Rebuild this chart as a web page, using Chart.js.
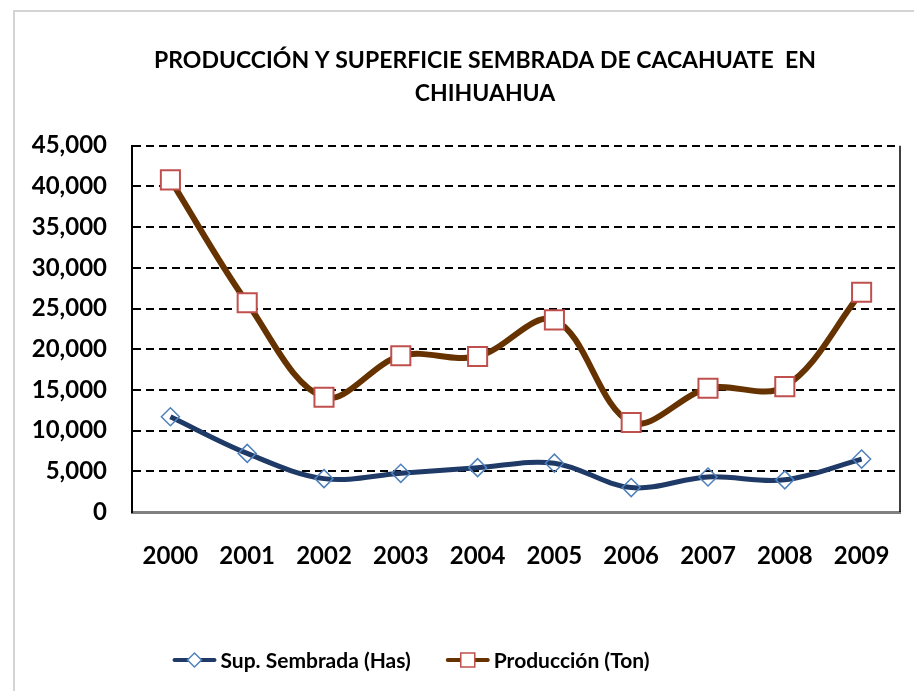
<!DOCTYPE html>
<html>
<head>
<meta charset="utf-8">
<script src="https://cdn.jsdelivr.net/npm/chart.js@4.4.1/dist/chart.umd.min.js"></script>
<style>
  html, body { margin: 0; padding: 0; background: #fff; overflow: hidden; }
  #frame {
    position: absolute; left: 13px; top: 10px;
    width: 960px; height: 700px;
    border: 2px solid #d4d4d4;
  }
</style>
</head>
<body>
<div id="frame"><canvas id="lineChart"></canvas></div>
<script>
const years = ['2000', '2001', '2002', '2003', '2004', '2005', '2006', '2007', '2008', '2009'];
const supSembrada = [11700, 7200, 4100, 4750, 5450, 6000, 3000, 4300, 3950, 6500];
const produccion = [40800, 25700, 14100, 19200, 19100, 23600, 11000, 15200, 15400, 27000];
const yTickLabels = ['0', '5,000', '10,000', '15,000', '20,000', '25,000', '30,000', '35,000', '40,000', '45,000'];
const titleLines = ['PRODUCCIÓN Y SUPERFICIE SEMBRADA DE CACAHUATE  EN', 'CHIHUAHUA'];

const FONT = 'Lato';

// let the y labels spill into the left padding (title stays centred like Excel)
const widenYLabels = {
    id: 'widenYLabels',
    afterLayout(chart) {
        chart.scales.y.left = 0;
    }
};

// right edge of the plot area (Excel draws a frame there)
const plotFrame = {
    id: 'plotFrame',
    beforeDatasetsDraw(chart) {
        const {ctx, chartArea} = chart;
        ctx.save();
        ctx.strokeStyle = '#000';
        ctx.lineWidth = 1.5;
        ctx.beginPath();
        ctx.moveTo(chartArea.right, chartArea.top);
        ctx.lineTo(chartArea.right, chartArea.bottom);
        ctx.stroke();
        ctx.restore();
    }
};

// legend drawn like Excel: line sample with the marker in the middle
const excelLegend = {
    id: 'excelLegend',
    afterDraw(chart) {
        const ctx = chart.ctx;
        const y = 648, centerX = 396;
        const sampleW = 44, textGap = 4, itemGap = 35;
        ctx.save();
        ctx.font = 'bold 21px ' + FONT;
        ctx.textBaseline = 'middle';
        const items = chart.data.datasets.map(ds => ({
            ds: ds,
            w: sampleW + textGap + ctx.measureText(ds.label).width
        }));
        const total = items.reduce((a, it) => a + it.w, 0) + itemGap * (items.length - 1);
        let x = centerX - total / 2;
        items.forEach(it => {
            const ds = it.ds;
            ctx.strokeStyle = ds.borderColor;
            ctx.lineWidth = 4;
            ctx.lineCap = 'round';
            ctx.beginPath();
            ctx.moveTo(x + 2, y);
            ctx.lineTo(x + sampleW - 2, y);
            ctx.stroke();
            const mx = x + sampleW / 2;
            ctx.lineCap = 'butt';
            ctx.fillStyle = '#fff';
            ctx.strokeStyle = ds.pointBorderColor;
            ctx.lineWidth = 1.5;
            ctx.beginPath();
            if (ds.pointStyle === 'rectRot') {
                const r = 7;
                ctx.moveTo(mx - r, y);
                ctx.lineTo(mx, y - r);
                ctx.lineTo(mx + r, y);
                ctx.lineTo(mx, y + r);
                ctx.closePath();
            } else {
                ctx.rect(mx - 7, y - 7, 14, 14);
            }
            ctx.fill();
            ctx.stroke();
            ctx.fillStyle = '#000';
            ctx.textAlign = 'left';
            ctx.fillText(ds.label, x + sampleW + textGap, y + 1);
            x += it.w + itemGap;
        });
        ctx.restore();
    }
};

const ctx = document.getElementById('lineChart').getContext('2d');

new Chart(ctx, {
    type: 'line',
    data: {
        labels: years,
        datasets: [{
            label: 'Sup. Sembrada (Has)',
            data: supSembrada,
            borderColor: '#1f3a66',
            borderWidth: 5,
            tension: 0.35,
            pointStyle: 'rectRot',
            pointRadius: 9,
            pointBorderWidth: 1.5,
            pointBorderColor: '#4f81bd',
            pointBackgroundColor: 'rgba(255,255,255,0)'
        }, {
            label: 'Producción (Ton)',
            data: produccion,
            borderColor: '#663300',
            borderWidth: 6,
            tension: 0.35,
            pointStyle: 'rect',
            pointRadius: 13.5,
            pointBorderWidth: 2,
            pointBorderColor: '#c0504d',
            pointBackgroundColor: '#ffffff'
        }]
    },
    options: {
        responsive: true,
        maintainAspectRatio: false,
        animation: false,
        layout: {
            padding: { left: 55, right: 75, top: 0, bottom: 120 }
        },
        plugins: {
            legend: { display: false },
            tooltip: { enabled: false },
            title: {
                display: true,
                text: titleLines,
                color: '#000',
                font: { family: FONT, size: 23, weight: 'bold', lineHeight: 1.45 },
                padding: { top: 32, bottom: 35 }
            }
        },
        scales: {
            x: {
                offset: true,
                grid: { display: false, drawTicks: false },
                border: { color: '#808080', width: 3 },
                ticks: {
                    color: '#000',
                    padding: 30,
                    maxRotation: 0,
                    font: { family: FONT, size: 24, weight: 'bold' }
                },
                afterFit(scale) { scale.height = 80; }
            },
            y: {
                min: 0,
                max: 45000,
                grid: { color: '#000', lineWidth: 2, drawTicks: false },
                border: { color: '#000', width: 2, dash: [8, 5] },
                ticks: {
                    stepSize: 5000,
                    color: '#000',
                    padding: 25,
                    font: { family: FONT, size: 24, weight: 'bold' },
                    callback: (value, index) => yTickLabels[index]
                },
                afterFit(scale) { scale.width = 62; }
            }
        }
    },
    plugins: [widenYLabels, plotFrame, excelLegend]
});
</script>
</body>
</html>
